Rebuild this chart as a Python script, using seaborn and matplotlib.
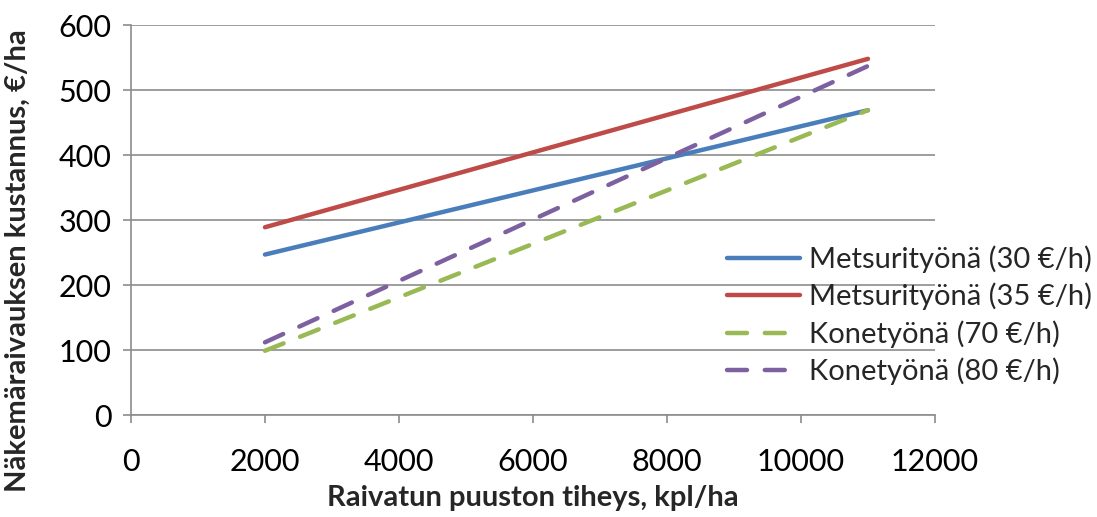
import matplotlib
matplotlib.use("Agg")
import matplotlib.pyplot as plt
import seaborn as sns
import pandas as pd

# Clearing cost per hectare vs. density of cleared stand
density = [2000, 11000]
metsuri_30 = [247, 469]
metsuri_35 = [289, 548]
kone_70 = [99, 469]
kone_80 = [112, 537]

series_names = [
    "Metsurityönä (30 €/h)",
    "Metsurityönä (35 €/h)",
    "Konetyönä (70 €/h)",
    "Konetyönä (80 €/h)",
]
series_values = [metsuri_30, metsuri_35, kone_70, kone_80]
colors = ["#4A7EBB", "#BE4B48", "#98B954", "#7D60A0"]
dashed = [False, False, True, True]

sns.set_theme(style="white")
plt.rcParams["font.family"] = ["Lato", "DejaVu Sans"]

fig = plt.figure(figsize=(10.97, 5.17), dpi=100)
ax = fig.add_axes([0.1194, 0.197, 0.7329, 0.7546])

for name, vals, col, dsh in zip(series_names, series_values, colors, dashed):
    df = pd.DataFrame({"x": density, "y": vals})
    sns.lineplot(data=df, x="x", y="y", ax=ax, color=col, linewidth=3.2,
                 label=name, solid_capstyle="round", dash_capstyle="round")
    if dsh:
        ax.lines[-1].set_dashes([4.5, 4.0])

ax.set_xlim(0, 12000)
ax.set_ylim(0, 600)
ax.set_xticks(range(0, 12001, 2000))
ax.set_yticks(range(0, 601, 100))
ax.yaxis.grid(True, color="#8C8C8C", linewidth=1.2)
ax.set_axisbelow(True)
for s in ["top", "right"]:
    ax.spines[s].set_visible(False)
for s in ["left", "bottom"]:
    ax.spines[s].set_color("#8C8C8C")
    ax.spines[s].set_linewidth(1.2)
ax.tick_params(axis="both", which="major", labelsize=22, colors="#8C8C8C",
               labelcolor="black", direction="out", length=6, width=1.2,
               left=True, bottom=True)
ax.tick_params(axis="x", pad=18)
ax.tick_params(axis="y", pad=8)

ax.set_xlabel("Raivatun puuston tiheys, kpl/ha", fontsize=21, fontweight="bold")
ax.set_ylabel("Näkemäraivauksen kustannus, €/ha", fontsize=21, fontweight="bold")
ax.xaxis.set_label_coords(0.5, -0.178)
ax.yaxis.set_label_coords(-0.124, 0.395)

leg = ax.legend(loc="center left", bbox_to_anchor=(0.663, 0.39),
                bbox_transform=fig.transFigure, frameon=False, fontsize=21,
                handlelength=2.5, handletextpad=0.3, labelspacing=0.34,
                borderaxespad=0, borderpad=0)

fig.savefig("out.png", dpi=100)
